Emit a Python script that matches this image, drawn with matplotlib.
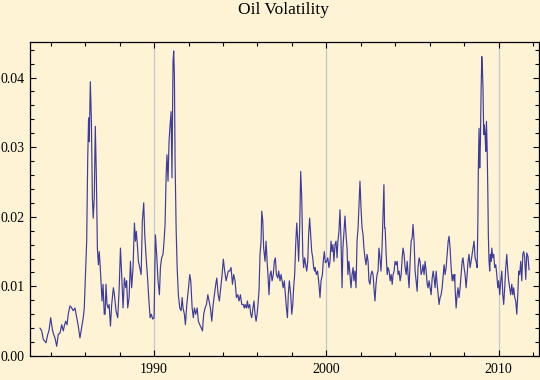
import numpy as np
import matplotlib
matplotlib.use("Agg")
import matplotlib.pyplot as plt
from matplotlib.ticker import MultipleLocator, FixedLocator

plt.rcParams['font.family'] = ['Liberation Serif', 'DejaVu Serif']

title = "Oil Volatility"

years_a = [1983.38,1983.48,1983.57,1983.73,1983.83,1983.90,1984.00,1984.10,1984.17,1984.25,
           1984.35,1984.44,1984.54,1984.64,1984.73,1984.79,1984.87,1984.95,1985.02,1985.12,
           1985.22,1985.31,1985.41,1985.51,1985.60,1985.70,1985.80,1985.89,1985.95,1986.03,
           1986.09,1986.15,1986.20,1986.24,1986.30,1986.36,1986.42,1986.47,1986.53,1986.59,
           1986.65,1986.71,1986.77,1986.82,1986.90,1986.98,1987.04,1987.11]
vol_a = [4.0,3.6,2.4,1.9,3.1,3.6,5.5,3.8,3.1,2.6,
         1.4,3.1,3.3,4.5,3.6,4.3,5.0,4.5,6.0,7.2,
         6.9,6.5,6.9,5.5,4.3,2.6,4.1,5.5,6.9,12.2,
         16.5,28.4,34.2,30.8,39.4,34.2,22.7,19.8,22.7,33.0,
         26.0,15.5,13.1,15.0,11.7,7.9,10.3,6.0]

years_b = [1987.16,1987.21,1987.27,1987.33,1987.39,1987.47,1987.54,1987.64,1987.70,1987.79,
           1987.89,1987.97,1988.05,1988.12,1988.20,1988.28,1988.36,1988.41,1988.47,1988.55,
           1988.63,1988.70,1988.78,1988.86,1988.92,1988.97,1989.03,1989.09,1989.17,1989.25,
           1989.32,1989.40,1989.46,1989.54,1989.61,1989.69,1989.77,1989.84,1989.92,1990.00,
           1990.08,1990.15,1990.23,1990.31,1990.37,1990.44,1990.52,1990.58,1990.64,1990.70,
           1990.75,1990.81,1990.87,1990.93,1990.99,1991.04,1991.10,1991.14,1991.18]
vol_b = [6.0,10.3,7.4,6.9,7.4,4.3,7.4,9.8,8.8,6.5,
         5.5,9.3,15.5,11.7,6.9,11.2,9.8,10.8,6.9,8.4,
         13.6,9.8,12.7,19.1,16.5,17.9,16.0,13.6,12.7,11.7,
         19.4,22.0,17.4,14.1,11.7,8.4,5.5,6.0,5.3,5.5,
         17.4,14.6,10.8,8.8,12.7,14.1,14.6,16.5,18.9,26.0,
         28.9,25.1,30.8,33.2,35.1,25.6,42.3,43.8,40.4]

years_c = [1991.22,1991.28,1991.34,1991.41,1991.49,1991.57,1991.63,1991.68,1991.76,1991.82,
           1991.90,1992.00,1992.07,1992.13,1992.21,1992.28,1992.34,1992.42,1992.50,1992.57,
           1992.65,1992.73,1992.81,1992.88,1992.96,1993.04,1993.12,1993.19,1993.27,1993.35,
           1993.43,1993.50,1993.58,1993.64,1993.72,1993.79,1993.87,1993.95,1994.02,1994.10,
           1994.18,1994.26,1994.31,1994.39,1994.47,1994.55,1994.62,1994.70,1994.78,1994.86,
           1994.93,1995.01,1995.09,1995.17,1995.24]
vol_c = [28.0,18.4,12.7,8.8,6.9,6.5,8.4,6.9,6.0,4.5,
         7.4,9.8,11.7,10.8,6.9,5.5,6.9,6.0,6.9,5.0,
         4.5,4.1,3.6,6.0,6.9,7.4,8.8,7.9,6.9,5.0,
         7.4,8.8,10.3,11.2,8.8,7.9,9.8,11.7,13.9,12.2,
         10.8,11.7,12.2,12.2,12.7,10.3,11.7,10.8,8.4,8.8,
         7.9,8.8,7.4,7.4,6.9]

years_d = [1995.28,1995.36,1995.42,1995.47,1995.55,1995.61,1995.67,1995.74,1995.80,1995.86,
           1995.92,1995.98,1996.03,1996.09,1996.15,1996.21,1996.25,1996.31,1996.36,1996.44,
           1996.50,1996.56,1996.61,1996.67,1996.73,1996.79,1996.85,1996.92,1996.98,1997.04,
           1997.10,1997.18,1997.23,1997.31,1997.37,1997.43,1997.49,1997.56,1997.62,1997.68,
           1997.74,1997.79,1997.85,1997.93,1997.99,1998.05,1998.10,1998.16,1998.22,1998.28,
           1998.34,1998.39,1998.45,1998.51,1998.57,1998.63,1998.68,1998.74,1998.80,1998.86,
           1998.92,1998.97,1999.03,1999.09,1999.15,1999.21,1999.26,1999.32]
vol_d = [7.4,6.9,7.9,6.9,7.4,6.0,5.5,6.9,7.9,6.0,
         5.0,6.0,7.4,9.3,14.6,16.5,20.8,19.4,15.5,13.6,
         16.5,13.6,11.7,8.8,11.7,12.2,10.8,11.7,13.6,14.1,
         11.7,11.2,12.2,10.8,11.7,10.8,9.8,10.8,8.8,6.9,
         5.5,8.8,10.8,8.8,6.0,7.4,9.8,11.7,16.0,19.1,
         16.5,13.6,18.4,26.5,22.7,14.6,12.7,14.1,13.1,12.2,
         13.6,17.4,19.8,17.4,15.0,14.1,12.7,12.2]

years_e = [1999.34,1999.42,1999.49,1999.57,1999.63,1999.69,1999.77,1999.82,1999.88,1999.94,
           2000.02,2000.08,2000.15,2000.21,2000.27,2000.33,2000.38,2000.44,2000.50,2000.56,
           2000.62,2000.67,2000.73,2000.79,2000.85,2000.91,2000.96,2001.02,2001.08,2001.14,
           2001.20,2001.25,2001.31,2001.37,2001.43,2001.49,2001.55,2001.60,2001.66,2001.72,
           2001.78,2001.84,2001.89,2001.95,2002.01,2002.07,2002.13,2002.18,2002.24,2002.30,
           2002.36,2002.42,2002.47,2002.53,2002.59,2002.65,2002.71,2002.76,2002.82,2002.88,
           2002.94,2003.00,2003.05,2003.11,2003.17,2003.23,2003.29,2003.34,2003.38]
vol_e = [12.7,11.7,12.2,10.3,8.4,10.8,11.7,13.6,15.0,13.4,
         13.6,14.1,12.7,13.6,16.5,15.0,16.0,13.6,16.0,16.5,
         14.1,16.5,17.9,21.0,16.5,9.8,15.5,17.9,20.1,17.4,
         15.5,11.7,13.6,11.7,9.8,11.7,12.7,10.8,12.2,9.8,
         16.5,18.4,21.3,25.1,21.3,18.4,17.4,15.5,14.1,13.1,
         14.6,13.6,10.8,10.3,11.7,12.2,11.7,9.8,7.9,10.3,
         11.7,12.2,15.5,14.1,12.2,15.5,20.3,24.6,18.4]

years_f = [2003.41,2003.47,2003.53,2003.58,2003.64,2003.70,2003.76,2003.82,2003.87,2003.93,
           2003.99,2004.05,2004.11,2004.16,2004.22,2004.28,2004.34,2004.40,2004.45,2004.51,
           2004.57,2004.63,2004.69,2004.74,2004.80,2004.86,2004.92,2004.98,2005.03,2005.09,
           2005.15,2005.21,2005.27,2005.32,2005.38,2005.44,2005.50,2005.56,2005.61,2005.67,
           2005.73,2005.79,2005.85,2005.90,2005.96,2006.02,2006.08,2006.14,2006.20,2006.25,
           2006.31,2006.37,2006.43,2006.49,2006.54,2006.60,2006.66,2006.72,2006.78,2006.83,
           2006.89,2006.95,2007.01,2007.07,2007.12,2007.18,2007.24,2007.30,2007.36,2007.41,
           2007.45]
vol_f = [18.4,14.6,11.7,12.7,12.2,10.8,11.7,10.3,11.7,12.2,
         13.6,13.1,13.6,11.7,12.2,10.8,11.7,14.1,15.5,14.6,
         12.7,11.7,13.6,11.7,9.8,13.6,16.5,17.0,18.9,16.5,
         12.2,10.8,9.3,12.7,14.1,13.6,11.7,12.2,13.1,11.7,
         13.6,12.2,10.3,9.8,10.8,9.8,8.8,11.2,12.2,11.2,
         9.8,12.2,10.3,8.8,7.4,8.4,8.8,9.8,11.7,13.1,
         11.7,12.7,14.6,16.5,17.2,15.5,12.7,10.8,11.7,10.8,
         11.7]

years_g = [2007.47,2007.53,2007.59,2007.64,2007.70,2007.76,2007.82,2007.88,2007.93,2007.99,
           2008.05,2008.11,2008.17,2008.22,2008.28,2008.34,2008.40,2008.46,2008.51,2008.57,
           2008.63,2008.69,2008.75,2008.79,2008.82,2008.86,2008.90,2008.94,2008.98,2009.02,
           2009.06,2009.09,2009.13,2009.17,2009.21,2009.25,2009.29,2009.33,2009.37,2009.40,
           2009.44,2009.48,2009.52,2009.56,2009.60,2009.66,2009.71,2009.77,2009.83,2009.89,
           2009.95,2010.00,2010.06,2010.12,2010.18,2010.24,2010.29,2010.35,2010.41,2010.47,
           2010.53,2010.58,2010.64,2010.70,2010.76,2010.82,2010.87,2010.93,2010.99,2011.05,
           2011.11,2011.16,2011.22,2011.28,2011.34,2011.40,2011.45,2011.51,2011.57,2011.63,
           2011.70,2011.76]
vol_g = [9.8,6.9,8.8,9.8,8.4,9.8,11.7,13.6,14.1,12.7,
         11.7,9.8,11.7,13.6,14.6,12.7,13.6,14.6,15.5,16.5,
         14.1,13.6,12.7,18.9,27.0,32.7,27.0,30.8,38.0,43.0,
         40.9,38.5,31.8,33.2,31.8,29.4,33.7,29.9,23.7,17.4,
         13.6,12.2,14.6,13.6,15.5,14.1,14.6,12.7,13.1,11.7,
         9.8,10.8,8.8,10.8,12.2,8.8,7.4,9.8,12.7,14.6,
         12.2,10.8,9.8,8.8,10.3,8.8,9.8,8.4,7.9,6.0,
         8.8,12.2,11.7,13.6,10.8,14.6,15.0,14.1,11.0,14.8,
         14.3,12.4]

x_major = [1990, 2000, 2010]
y_major = [0.00, 0.01, 0.02, 0.03, 0.04]
y_labels = ["0.00", "0.01", "0.02", "0.03", "0.04"]

years = np.array(years_a + years_b + years_c + years_d + years_e + years_f + years_g)
vol = np.array(vol_a + vol_b + vol_c + vol_d + vol_e + vol_f + vol_g) / 1000.0

bg = '#FFF3D5'
fig = plt.figure(figsize=(5.4, 3.8), dpi=100, facecolor=bg)
ax = fig.add_axes([30/540, 24/380, 509/540, 314/380], facecolor=bg)

for xv in x_major:
    ax.axvline(xv, color='#C4C6D0', lw=0.9, zorder=1)

ax.plot(years, vol, color='#3C3C9C', lw=0.85, zorder=3)

ax.set_xlim(1982.80, 2012.34)
ax.set_ylim(0, 0.0451)

ax.xaxis.set_major_locator(FixedLocator(x_major))
ax.xaxis.set_minor_locator(MultipleLocator(2))
ax.yaxis.set_major_locator(FixedLocator(y_major))
ax.yaxis.set_minor_locator(MultipleLocator(0.002))
ax.set_yticklabels(y_labels)
ax.set_xticklabels([str(v) for v in x_major])

ax.tick_params(which='both', direction='in', top=True, right=True, color='black',
               labelsize=10, labelcolor='black')
ax.tick_params(which='major', length=4.0, width=0.8)
ax.tick_params(which='minor', length=2.6, width=0.8)
ax.tick_params(axis='y', pad=4)
ax.tick_params(axis='x', pad=5)
for s in ax.spines.values():
    s.set_linewidth(0.9)
    s.set_color('black')

fig.text(284/540, 1 - 10/380, title, ha='center', va='center', fontsize=12.5)

fig.savefig('out.png', dpi=100, facecolor=bg)
